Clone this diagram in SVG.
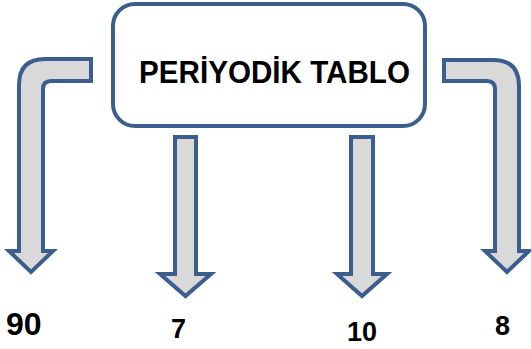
<svg xmlns="http://www.w3.org/2000/svg" width="531" height="349" viewBox="0 0 531 349">
<style>
.arrow{fill:#d9d9d9;stroke:#3b5e8c;stroke-width:4;stroke-linejoin:miter}
.box{fill:#ffffff;stroke:#3b5e8c;stroke-width:4}
.t{font-family:"Liberation Sans",Arial,sans-serif;font-weight:bold;fill:#000}
</style>
<rect width="531" height="349" fill="#ffffff"/>
<g id="node-periyodik">
<rect class="box" x="113" y="4" width="312" height="122" rx="22" ry="22"/>
<text class="t" x="139" y="83" font-size="31" textLength="271" lengthAdjust="spacingAndGlyphs">PERİYODİK TABLO</text>
</g>
<g id="connectors">
<path class="arrow" d="M91 59 L91 81 L51 81 Q43 81 43 89 L43 251 L53 251 L31 272 L9 251 L19 251 L19 85 Q19 59 45 59 Z"/>
<path class="arrow" d="M444 60 L493 60 Q519 60 519 86 L519 251 L529 251 L507 272 L485 251 L495 251 L495 89 Q495 81 487 81 L444 81 Z"/>
<path class="arrow" d="M175 137 L196 137 L196 274 L211 274 L185.5 296 L160 274 L175 274 Z"/>
<path class="arrow" d="M351 137 L373 137 L373 274 L387 274 L362 296 L337 274 L351 274 Z"/>
</g>
<g id="node-90"><text class="t" x="6" y="335" font-size="32">90</text></g>
<g id="node-7"><text class="t" x="171" y="338" font-size="27">7</text></g>
<g id="node-10"><text class="t" x="347" y="341" font-size="27">10</text></g>
<g id="node-8"><text class="t" x="495" y="335" font-size="27">8</text></g>
</svg>
